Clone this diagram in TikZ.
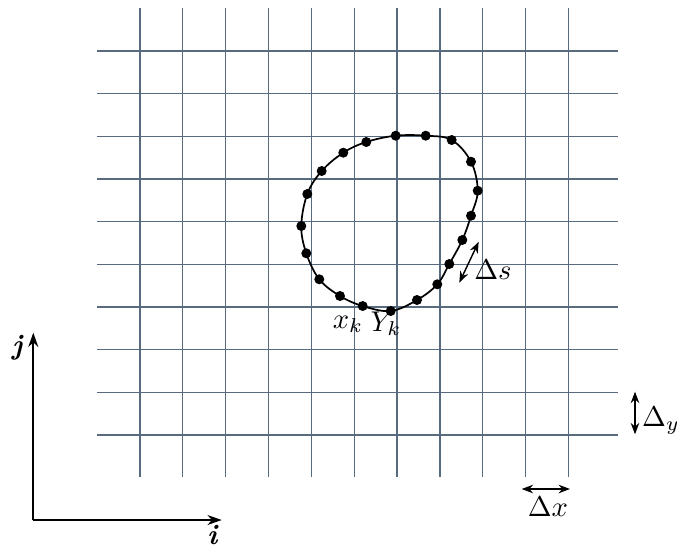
\documentclass[tikz,border=0pt]{standalone}
\usepackage{tikz}
\usepackage{amsmath}
\usetikzlibrary{arrows.meta}
\definecolor{gridslate}{RGB}{88, 106, 126}

\begin{document}
\begin{tikzpicture}[x=0.35pt, y=-0.35pt, font=\normalsize]
  \useasboundingbox (0, 0) rectangle (677, 547);

  % Mesh
  \foreach \k in {0,...,10} {
    \draw[gridslate, line width=0.45pt] ({140 + 42.85*\k}, 8) -- ({140 + 42.85*\k}, 477);
  }
  \foreach \k in {0,...,9} {
    \draw[gridslate, line width=0.45pt] (97, {51 + 42.67*\k}) -- (618, {51 + 42.67*\k});
  }

  % Interface curve and markers
  \draw[line width=0.6pt] plot[smooth cycle, tension=0.6] coordinates {
    (395.7,135.7) (425.7,135.7) (451.7,140) (471,161.7) (477.7,190.7)
    (471,215.7) (462.3,240) (449.3,264) (437.3,284.3) (417,300)
    (390.7,311) (362.7,306) (340,296) (319.3,279.3) (306.3,253.3)
    (301.3,226) (307.3,194) (321.7,171) (343.3,152.7) (366.3,142)};
  \foreach \px/\py in {395.7/135.7, 425.7/135.7, 451.7/140, 471/161.7, 477.7/190.7,
    471/215.7, 462.3/240, 449.3/264, 437.3/284.3, 417/300,
    390.7/311, 362.7/306, 340/296, 319.3/279.3, 306.3/253.3,
    301.3/226, 307.3/194, 321.7/171, 343.3/152.7, 366.3/142} {
    \fill (\px, \py) circle (1.75pt);
  }
  \node (xk) at (348, 324) {$x_k$};
  \node (yk) at (386, 324) {$Y_k$};

  % Spacing markers
  \coordinate (dsa) at (478.7, 241.7);
  \coordinate (dsb) at (459.3, 282.7);
  \draw[{Stealth[length=4pt, width=3pt]}-{Stealth[length=4pt, width=3pt]}, line width=0.5pt] (dsa) -- (dsb);
  \node (ds) at (493, 270) {$\Delta s$};

  \coordinate (dya) at (635, 391.7);
  \coordinate (dyb) at (635, 434.3);
  \draw[{Stealth[length=4pt, width=3pt]}-{Stealth[length=4pt, width=3pt]}, line width=0.5pt] (dya) -- (dyb);
  \node (dy) at (661, 421) {$\Delta_y$};

  \coordinate (dxa) at (521.7, 489);
  \coordinate (dxb) at (570, 489);
  \draw[{Stealth[length=4pt, width=3pt]}-{Stealth[length=4pt, width=3pt]}, line width=0.5pt] (dxa) -- (dxb);
  \node (dx) at (548, 507) {$\Delta x$};

  % Index axes
  \coordinate (origin) at (33.3, 520);
  \coordinate (jtip) at (33.3, 332.7);
  \coordinate (itip) at (221.7, 520);
  \draw[-{Stealth[length=5pt, width=3.5pt]}, line width=0.6pt] (origin) -- (jtip);
  \draw[-{Stealth[length=5pt, width=3.5pt]}, line width=0.6pt] (origin) -- (itip);
  \node[font=\bfseries] (jlab) at (18, 348) {\textit{j}};
  \node[font=\bfseries, anchor=north, inner sep=0pt] (ilab) at (213, 525) {\textit{i}};
\end{tikzpicture}
\end{document}
